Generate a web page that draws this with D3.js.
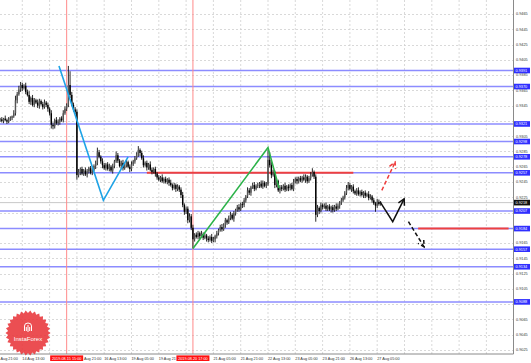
<!DOCTYPE html>
<html>
<head>
<meta charset="utf-8">
<script src="https://cdn.jsdelivr.net/npm/d3@7"></script>
<style>
  html, body { margin: 0; padding: 0; background: #fff; }
  svg { display: block; font-family: "Liberation Sans", Arial, sans-serif; }
</style>
</head>
<body>
<div id="chart"></div>
<script>
// Hourly bars, prices in pips (price x 10000). Bar index of first entry = FIRST_BAR.
const FIRST_BAR = 3;
const firstOpen = 9326;
const closes = [
  9327, 9325, 9328, 9326, 9324, 9327, 9329, 9331, 9335,
  9352, 9360, 9366, 9372, 9368, 9371, 9363, 9359, 9350,
  9355, 9346, 9352, 9349, 9345, 9351, 9347, 9343, 9349, 9346, 9341, 9335,
  9320, 9318, 9326, 9322, 9324, 9328, 9326, 9335, 9341, 9346,
  9372, 9359, 9346, 9340, 9337,
  9254, 9258, 9262, 9256, 9260, 9255, 9259, 9263, 9257, 9261, 9266, 9270,
  9284, 9278, 9272, 9267, 9263, 9268, 9262, 9265, 9260, 9266, 9272,
  9280, 9273, 9266, 9270, 9263, 9267, 9271, 9265, 9262, 9268, 9272, 9276, 9281,
  9287, 9283, 9276, 9267, 9270, 9264, 9268, 9261, 9258, 9262, 9256,
  9251, 9248, 9251, 9246, 9249, 9245, 9248, 9244, 9241, 9237, 9241, 9236, 9239, 9235,
  9228, 9215, 9206, 9210, 9195, 9200, 9185, 9170, 9176,
  9173, 9178, 9174, 9177, 9172, 9175, 9171, 9169, 9173, 9168, 9170, 9174, 9178,
  9182, 9186, 9183, 9189, 9195, 9192, 9198, 9202, 9197, 9204, 9208, 9212, 9209, 9216, 9215, 9221, 9226,
  9234, 9231, 9238, 9241, 9236, 9240, 9241, 9243, 9239, 9244, 9240, 9242,
  9274, 9267, 9254, 9258, 9241, 9246, 9234, 9238, 9236, 9240, 9235, 9239, 9237, 9241, 9236,
  9245, 9249, 9246, 9250, 9247, 9251, 9248, 9252, 9246, 9250, 9254, 9258, 9252,
  9202, 9211, 9207, 9215, 9212, 9214, 9210, 9213, 9209, 9212, 9208, 9213, 9210, 9214, 9218,
  9221, 9225, 9230, 9237, 9241, 9236, 9239, 9233, 9230, 9234, 9229, 9232, 9228, 9231, 9227,
  9229, 9224, 9226, 9221, 9217, 9214, 9219, 9216, 9218
];
// upper / lower shadow length in pips
const wickUp = [
  2,3,1,4,2,3,2,1,4,6,3,5,4,3,2,4,
  3,5,2,4,3,2,4,3,2,3,4,2,3,2,4,3,
  2,4,3,2,3,4,3,2,25,18,4,3,3,3,4,2,
  3,2,4,3,2,3,4,2,3,6,3,2,4,3,2,3,
  4,2,3,2,5,3,2,3,4,2,3,2,3,4,2,3,
  3,5,2,3,4,2,3,2,4,3,2,3,2,3,2,4,
  2,3,2,3,4,2,3,2,3,2,3,4,2,3,3,4,
  3,4,2,3,3,2,4,2,3,2,3,2,4,3,2,3,
  2,3,4,2,3,2,3,4,2,3,2,3,4,2,3,3,
  2,4,3,2,3,4,2,3,2,4,3,2,3,13,10,4,
  3,2,4,2,3,3,2,4,2,3,2,3,4,2,3,2,
  3,2,4,3,2,3,4,5,2,3,4,2,3,2,3,4,
  2,3,2,3,2,4,3,2,3,2,3,4,4,3,2,3,
  2,3,4,2,3,2,3,2,4,3,2,3,2,4,3,2
];
const wickDn = [
  2,2,3,1,3,2,2,3,2,3,4,2,3,4,2,3,
  2,3,4,2,3,2,3,4,2,3,2,3,4,3,5,4,
  3,2,3,4,2,3,2,3,3,4,2,3,3,6,3,4,
  2,3,2,4,3,2,3,2,4,3,2,3,4,2,3,2,
  3,2,4,3,2,3,2,4,3,2,3,2,4,3,2,3,
  2,3,4,2,3,2,4,3,2,3,2,4,3,2,3,2,
  3,2,3,4,2,3,2,4,3,3,4,3,4,3,4,3,
  3,12,3,2,3,4,2,3,2,4,3,2,3,2,4,3,
  3,2,3,2,4,3,2,3,2,4,3,2,3,2,4,3,
  3,2,3,4,2,3,2,3,4,2,3,2,3,2,3,4,
  2,4,3,2,4,3,2,3,2,4,3,2,3,2,4,3,
  2,3,2,4,3,2,3,2,3,9,3,4,2,3,2,3,
  3,2,4,3,2,3,2,4,3,2,3,2,3,2,4,3,
  2,3,2,3,2,4,3,2,3,2,3,2,8,3,2,2
];

// time axis: one label every 16 bars starting at bar 0
const timeLabels = [
  "13 Aug 21:00", "14 Aug 13:00", "15 Aug 05:00", "15 Aug 21:00", "16 Aug 13:00",
  "19 Aug 05:00", "19 Aug 21:00", "20 Aug 13:00", "21 Aug 05:00", "21 Aug 21:00",
  "22 Aug 13:00", "23 Aug 05:00", "23 Aug 21:00", "26 Aug 13:00", "27 Aug 05:00"
];
const priceTicks = [
  0.9465, 0.9445, 0.9425, 0.9405, 0.9385, 0.9365, 0.9345, 0.9325, 0.9305, 0.9285,
  0.9265, 0.9245, 0.9225, 0.9205, 0.9185, 0.9165, 0.9145, 0.9125, 0.9105, 0.9085,
  0.9065, 0.9045, 0.9025
];

// chart objects
const levels = [0.9391, 0.9370, 0.9321, 0.9298, 0.9278, 0.9257, 0.9207, 0.9184, 0.9157, 0.9134, 0.9088];
const redLevels = [
  { price: 0.9257, from: 89, to: 210 },
  { price: 0.9184, from: 248, to: 301 }
];
const currentPrice = 0.9218;
const vLines = [
  { bar: 42, label: "2019.08.15 15:00" },
  { bar: 116, label: "2019.08.20 17:00" }
];
const cyanPath = [[37.5, 0.9397], [63.5, 0.9221], [78, 0.9278]];
const greenPath = [[116, 0.9158], [160, 0.9290], [166.5, 0.9237]];
const redArrow = [[226.7, 0.9234], [234.5, 0.9271]];
const blackPath = [[225.7, 0.9219], [233.1, 0.9193], [239.8, 0.9223]];
const blackDash = [[242.3, 0.9193], [251.5, 0.9160]];

const W = 531, H = 363;
const plotRight = 513.5, plotBottom = 354;
const FS = 3.8;

const svg = d3.select("#chart").append("svg")
  .attr("width", W).attr("height", H)
  .attr("viewBox", `0 0 ${W} ${H}`);

const x = d3.scaleLinear().domain([0, 304]).range([-5, 513.7]);
const y = d3.scaleLinear().domain([0.9025, 0.9465]).range([350, 14]);

const defs = svg.append("defs");
defs.append("clipPath").attr("id", "plot")
  .append("rect").attr("x", 0).attr("y", 0).attr("width", plotRight).attr("height", plotBottom);

const plot = svg.append("g").attr("clip-path", "url(#plot)");

// grid
const grid = plot.append("g");
priceTicks.forEach(p => {
  grid.append("line")
    .attr("x1", 0).attr("x2", plotRight)
    .attr("y1", Math.round(y(p)) + 0.5).attr("y2", Math.round(y(p)) + 0.5)
    .attr("stroke", "#cfcfcf").attr("stroke-width", 0.8).attr("stroke-dasharray", "2,2");
});
for (let b = 0; b <= 288; b += 16) {
  grid.append("line")
    .attr("x1", x(b)).attr("x2", x(b))
    .attr("y1", 0).attr("y2", plotBottom)
    .attr("stroke", "#cfcfcf").attr("stroke-width", 0.8).attr("stroke-dasharray", "2,2");
}

// current price line
plot.append("line")
  .attr("x1", 0).attr("x2", plotRight)
  .attr("y1", y(currentPrice)).attr("y2", y(currentPrice))
  .attr("stroke", "#c8c8c8").attr("stroke-width", 1);

// horizontal levels
levels.forEach(p => {
  plot.append("line")
    .attr("x1", 0).attr("x2", plotRight)
    .attr("y1", y(p)).attr("y2", y(p))
    .attr("stroke", "#8c8cff").attr("stroke-width", 1.5);
});

// vertical time lines
vLines.forEach(v => {
  plot.append("line")
    .attr("x1", x(v.bar)).attr("x2", x(v.bar))
    .attr("y1", 0).attr("y2", plotBottom)
    .attr("stroke", "#ff8a8a").attr("stroke-width", 1);
});

// red levels
redLevels.forEach(r => {
  plot.append("line")
    .attr("x1", x(r.from)).attr("x2", x(r.to))
    .attr("y1", y(r.price)).attr("y2", y(r.price))
    .attr("stroke", "#ee4040").attr("stroke-width", 2);
});

// candles
const bars = [];
let prev = firstOpen;
closes.forEach((c, i) => {
  const o = prev;
  bars.push({
    bar: FIRST_BAR + i, o: o / 1e4, c: c / 1e4,
    h: (Math.max(o, c) + wickUp[i]) / 1e4,
    l: (Math.min(o, c) - wickDn[i]) / 1e4
  });
  prev = c;
});
const cg = plot.append("g");
bars.forEach(d => {
  const cx = x(d.bar);
  cg.append("line")
    .attr("x1", cx).attr("x2", cx)
    .attr("y1", y(d.h)).attr("y2", y(d.l))
    .attr("stroke", "#111").attr("stroke-width", 0.9);
  const top = y(Math.max(d.o, d.c)), bot = y(Math.min(d.o, d.c));
  cg.append("rect")
    .attr("x", cx - 0.7).attr("width", 1.4)
    .attr("y", top).attr("height", Math.max(0.6, bot - top))
    .attr("fill", d.c >= d.o ? "#555" : "#000");
});

// trend lines and forecast arrows
const line = d3.line().x(d => x(d[0])).y(d => y(d[1]));
plot.append("path").attr("d", line(cyanPath))
  .attr("fill", "none").attr("stroke", "#1ea3e6").attr("stroke-width", 1.6);
plot.append("path").attr("d", line(greenPath))
  .attr("fill", "none").attr("stroke", "#2db34a").attr("stroke-width", 1.6);

function arrow(pts, color, dashed) {
  plot.append("path").attr("d", line(pts))
    .attr("fill", "none").attr("stroke", color).attr("stroke-width", 1.5)
    .attr("stroke-dasharray", dashed ? "4,2.5" : null);
  const a = pts[pts.length - 2], b = pts[pts.length - 1];
  const x1 = x(a[0]), y1 = y(a[1]), x2 = x(b[0]), y2 = y(b[1]);
  const ang = Math.atan2(y2 - y1, x2 - x1);
  const len = 7, spread = 0.5;
  const wing = s => [x2 - len * Math.cos(ang + s), y2 - len * Math.sin(ang + s)];
  const w1 = wing(spread), w2 = wing(-spread);
  plot.append("path")
    .attr("d", `M${w1[0]},${w1[1]}L${x2},${y2}L${w2[0]},${w2[1]}`)
    .attr("fill", "none").attr("stroke", color).attr("stroke-width", 1.5)
    .attr("stroke-dasharray", dashed ? "4,2.5" : null);
}
arrow(redArrow, "#ee3b3b", true);
arrow(blackPath, "#111", false);
arrow(blackDash, "#111", true);

// axes frame
svg.append("line").attr("x1", plotRight).attr("x2", plotRight).attr("y1", 0).attr("y2", plotBottom)
  .attr("stroke", "#8a8a8a").attr("stroke-width", 1);
svg.append("line").attr("x1", 0).attr("x2", plotRight).attr("y1", plotBottom).attr("y2", plotBottom)
  .attr("stroke", "#8a8a8a").attr("stroke-width", 1);

// price axis labels
const boxPrices = levels.concat([currentPrice]);
priceTicks.forEach(p => {
  if (boxPrices.some(b => Math.abs(y(b) - y(p)) < 3.5)) return;
  svg.append("text")
    .attr("x", 516).attr("y", y(p)).attr("dy", "0.35em")
    .attr("font-size", FS).attr("fill", "#333")
    .text(p.toFixed(4));
});
function priceBox(p, fill) {
  svg.append("rect").attr("x", 514).attr("y", y(p) - 2.8).attr("width", 16).attr("height", 5.6)
    .attr("fill", fill);
  svg.append("text")
    .attr("x", 515.5).attr("y", y(p)).attr("dy", "0.35em")
    .attr("font-size", FS).attr("fill", "#fff")
    .text(p.toFixed(4));
}
levels.forEach(p => priceBox(p, "#2f2fff"));
priceBox(currentPrice, "#111");

// time axis labels; the part of a label that sits under an object box
// (or beyond the left edge) is not shown, as in the terminal
const BOX_W = 33;
const boxes = vLines.map(v => [x(v.bar) - BOX_W / 2, x(v.bar) + BOX_W / 2]);
const measure = svg.append("text").attr("font-size", FS).attr("visibility", "hidden");
const textW = s => { measure.text(s); return measure.node().getComputedTextLength(); };
const tg = svg.append("g");
timeLabels.forEach((t, k) => {
  const x0 = x(k * 16), x1 = x0 + textW(t);
  const cover = boxes.find(b => x0 < b[1] && x1 > b[0]);
  if (cover && x0 >= cover[0] - 0.5 && x1 <= cover[1] + 2) return;      // fully hidden
  if (x0 < 0 || (cover && x0 >= cover[0])) {                           // left part hidden
    const rest = t.slice(t.indexOf(" ") + 1);
    const lim = cover ? cover[1] + 0.8 : 0.5;
    const xs = Math.max(x0 + textW(t.slice(0, t.indexOf(" ") + 1)), lim);
    tg.append("text").attr("x", xs).attr("y", 358.5).attr("dy", "0.35em")
      .attr("font-size", FS).attr("fill", "#333").text(rest);
    return;
  }
  if (cover) {                                                          // right part hidden
    let s = t;
    while (s.length && x0 + textW(s) > cover[0] - 0.3) s = s.slice(0, -1);
    tg.append("text").attr("x", x0).attr("y", 358.5).attr("dy", "0.35em")
      .attr("font-size", FS).attr("fill", "#333").text(s.trim());
    return;
  }
  tg.append("text").attr("x", x0).attr("y", 358.5).attr("dy", "0.35em")
    .attr("font-size", FS).attr("fill", "#333").text(t);
});
measure.remove();
vLines.forEach((v, i) => {
  svg.append("rect").attr("x", boxes[i][0]).attr("y", 355.4).attr("width", BOX_W).attr("height", 5.6)
    .attr("fill", "#ff1010");
  svg.append("text")
    .attr("x", x(v.bar)).attr("y", 358.2).attr("dy", "0.35em")
    .attr("text-anchor", "middle")
    .attr("font-size", FS).attr("fill", "#fff")
    .text(v.label);
});

// InstaForex seal
const seal = svg.append("g").attr("transform", "translate(28,333)");
const teeth = 30;
const pts = d3.range(teeth * 2).map(k => {
  const a = k * Math.PI / teeth, r = k % 2 ? 20 : 22.5;
  return [r * Math.cos(a), r * Math.sin(a)];
});
seal.append("path")
  .attr("d", "M" + pts.map(p => p.join(",")).join("L") + "Z")
  .attr("fill", "#e8363a").attr("fill-opacity", 0.88);
const icon = seal.append("g").attr("transform", "translate(0,-6)")
  .attr("fill", "none").attr("stroke", "#fff").attr("stroke-width", 1);
icon.append("path").attr("d", "M-3.5,4 L-3.5,-1 Q-3.5,-4 0,-4 Q3.5,-4 3.5,-1 L3.5,4");
icon.append("path").attr("d", "M0,-2 L0,5 M-1.7,0 L-1.7,4 M1.7,0 L1.7,4");
seal.append("text")
  .attr("x", 0).attr("y", 8).attr("text-anchor", "middle")
  .attr("font-size", 6).attr("fill", "#fff")
  .text("InstaForex");
</script>
</body>
</html>
